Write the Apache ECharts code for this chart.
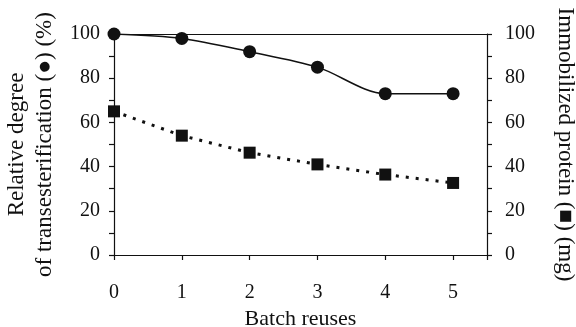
<!DOCTYPE html>
<html>
<head>
<meta charset="utf-8">
<script src="https://cdn.jsdelivr.net/npm/echarts@6/dist/echarts.min.js"></script>
<style>html,body{margin:0;padding:0;background:#fff}#c{width:576px;height:327px}</style>
</head>
<body>
<div id="c"></div>
<script>
const batchReuses = [0, 1, 2, 3, 4, 5];
const transesterification = [100, 98, 92, 85, 73, 73];
const immobilizedProtein = [65, 54, 46.3, 41, 36.4, 32.6];
const xTicks = [0, 1, 2, 3, 4, 5];

const font = "Liberation Serif";
const chart = echarts.init(document.getElementById('c'), null, {renderer: 'canvas'});
const axisCommon = {
  axisLine: {show: true, onZero: false, lineStyle: {color: '#111', width: 1.2}},
  axisTick: {show: true, length: 5, lineStyle: {color: '#111', width: 1.2}},
  splitLine: {show: false},
  axisLabel: {color: '#111', fontFamily: font, fontSize: 20}
};
chart.setOption({
  animation: false,
  backgroundColor: '#fff',
  grid: {left: 114, right: 89, top: 34, bottom: 72, containLabel: false, outerBoundsMode: 'none'},
  xAxis: [{
    type: 'value', min: 0, max: 5.5, interval: 1,
    ...axisCommon,
    axisLabel: {...axisCommon.axisLabel, margin: 28, formatter: v => xTicks.includes(v) ? String(v) : ''},
    name: 'Batch reuses', nameLocation: 'middle', nameGap: 50,
    nameTextStyle: {color: '#111', fontFamily: font, fontSize: 22}
  }, {
    type: 'value', min: 0, max: 5.5, position: 'top',
    axisLine: {show: true, onZero: false, lineStyle: {color: '#111', width: 1.2}},
    axisTick: {show: false}, axisLabel: {show: false}, splitLine: {show: false}
  }],
  yAxis: [{
    type: 'value', min: 0, max: 100, interval: 20, position: 'left',
    ...axisCommon,
    axisLabel: {...axisCommon.axisLabel, margin: 14},
    minorTick: {show: true, splitNumber: 2, length: 5, lineStyle: {color: '#111', width: 1.2}},
    name: 'Relative degree\nof transesterification (●) (%)', nameLocation: 'middle', nameGap: 50, nameRotate: 90,
    nameTextStyle: {color: '#111', fontFamily: font, fontSize: 23, lineHeight: 28}
  }, {
    type: 'value', min: 0, max: 100, interval: 20, position: 'right',
    ...axisCommon,
    axisLabel: {...axisCommon.axisLabel, margin: 18},
    minorTick: {show: true, splitNumber: 2, length: 5, lineStyle: {color: '#111', width: 1.2}},
    name: 'Immobilized protein (■) (mg)', nameLocation: 'middle', nameGap: 67, nameRotate: -90,
    nameTextStyle: {color: '#111', fontFamily: font, fontSize: 23}
  }],
  series: [{
    type: 'line', yAxisIndex: 0,
    data: batchReuses.map((x, i) => [x, transesterification[i]]),
    smooth: 0.3, symbol: 'circle', symbolSize: 13,
    lineStyle: {color: '#111', width: 1.5},
    itemStyle: {color: '#111'}
  }, {
    type: 'line', yAxisIndex: 1,
    data: batchReuses.map((x, i) => [x, immobilizedProtein[i]]),
    symbol: 'rect', symbolSize: 12,
    lineStyle: {color: '#111', width: 3, type: [3, 7]},
    itemStyle: {color: '#111'}
  }]
});
</script>
</body>
</html>
